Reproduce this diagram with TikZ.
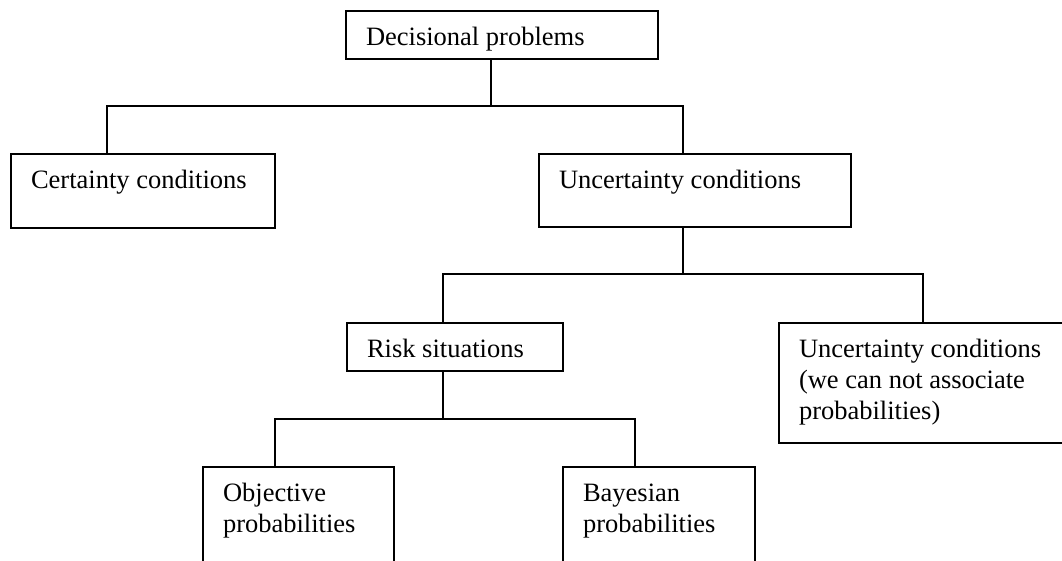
\documentclass[tikz,border=0pt]{standalone}
\usepackage{fontspec}
\setmainfont{Liberation Serif}
\newcommand{\toptext}[3]{\parbox[c][#2][t]{#1}{\vspace*{13pt}\raggedright\strut #3}}
\begin{document}
\begin{tikzpicture}[x=1pt,y=-1pt,
  probbox/.style={draw, line width=1.8pt, anchor=north west, inner xsep=20pt, inner ysep=0pt, outer sep=0pt, font=\fontsize{26.5}{31}\selectfont},
  link/.style={draw, line width=1.8pt}]
\useasboundingbox (0,0) rectangle (1062,560);

\node[probbox] (dec) at (346,11) {\toptext{272pt}{48pt}{Decisional problems}};
\node[probbox] (cert) at (11,154) {\toptext{224pt}{74pt}{Certainty conditions}};
\node[probbox] (unc) at (539,154) {\toptext{272pt}{73pt}{Uncertainty conditions}};
\node[probbox] (risk) at (347,323) {\toptext{176pt}{48pt}{Risk situations}};
\node[probbox] (nounc) at (779,323) {\toptext{260pt}{120pt}{Uncertainty conditions\\(we can not associate\\probabilities)}};
\node[probbox] (obj) at (203,467) {\toptext{151pt}{120pt}{Objective\\probabilities}};
\node[probbox] (bay) at (563,467) {\toptext{152pt}{120pt}{Bayesian\\probabilities}};

\coordinate (t1) at (491,106);
\coordinate (t1l) at (107,106);
\coordinate (t1r) at (683,106);
\coordinate (t2) at (683,274);
\coordinate (t2l) at (443,274);
\coordinate (t2r) at (923,274);
\coordinate (t3) at (443,419);
\coordinate (t3l) at (275,419);
\coordinate (t3r) at (635,419);

\path[link] (dec.south -| t1) -- (t1);
\path[link] (cert.north -| t1l) -- (t1l) -- (t1r) -- (unc.north -| t1r);
\path[link] (unc.south -| t2) -- (t2);
\path[link] (risk.north -| t2l) -- (t2l) -- (t2r) -- (nounc.north -| t2r);
\path[link] (risk.south -| t3) -- (t3);
\path[link] (obj.north -| t3l) -- (t3l) -- (t3r) -- (bay.north -| t3r);
\end{tikzpicture}
\end{document}
